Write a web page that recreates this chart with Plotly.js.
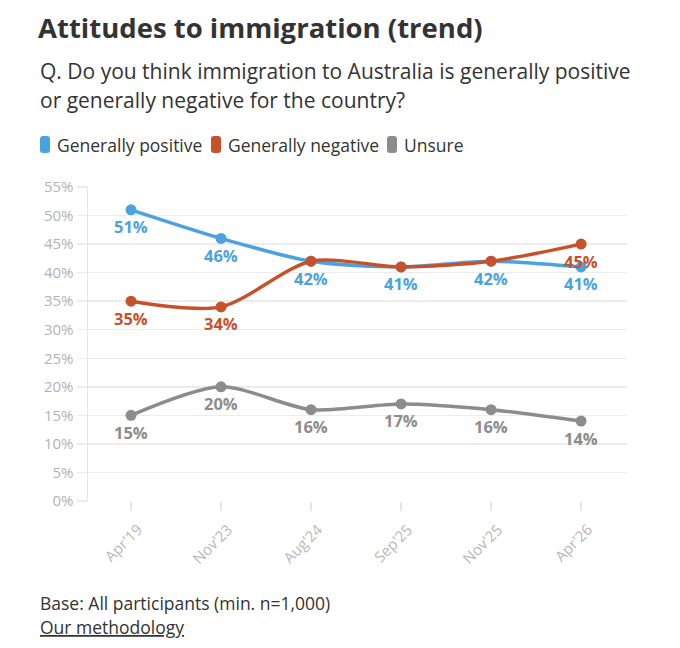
<!DOCTYPE html>
<html>
<head>
<meta charset="utf-8">
<script src="https://cdn.plot.ly/plotly-3.0.1.min.js"></script>
<style>
  html, body { margin: 0; padding: 0; background: #ffffff; }
  #chart { width: 680px; height: 648px; }
</style>
</head>
<body>
<div id="chart"></div>
<script>
// ---- Data ----
const categories = ["Apr'19", "Nov'23", "Aug'24", "Sep'25", "Nov'25", "Apr'26"];
const positiveValues = [51, 46, 42, 41, 42, 41];
const negativeValues = [35, 34, 42, 41, 42, 45];
const unsureValues = [15, 20, 16, 17, 16, 14];
const negativeLabelShown = [true, true, false, false, false, true];
const yTickValues = [0, 5, 10, 15, 20, 25, 30, 35, 40, 45, 50, 55];
const yTickLabels = yTickValues.map(v => v + '%');
const seriesNames = ['Generally positive', 'Generally negative', 'Unsure'];

// ---- Style ----
const COLORS = ['#4aa3df', '#c6522c', '#8c8c8c'];
const FONT = '"Open Sans", "Noto Sans", sans-serif';
const W = 680, H = 648;
const M = { l: 88, r: 53, t: 187, b: 147 };
const PW = W - M.l - M.r, PH = H - M.t - M.b;
const px = x => (x - M.l) / PW;
const py = y => (H - M.b - y) / PH;

function makeTrace(name, values, color) {
  return {
    type: 'scatter',
    mode: 'lines+markers',
    name: name,
    x: categories,
    y: values,
    line: { color: color, width: 3.5, shape: 'spline', smoothing: 0.8 },
    marker: { color: color, size: 11 },
    cliponaxis: false,
    hoverinfo: 'skip',
    showlegend: false
  };
}

const data = [
  makeTrace(seriesNames[2], unsureValues, COLORS[2]),
  makeTrace(seriesNames[0], positiveValues, COLORS[0]),
  makeTrace(seriesNames[1], negativeValues, COLORS[1])
];

const shapes = [];
const annotations = [];

// Data labels (placed in data coordinates, shifted below the point)
function addLabels(values, color, shown) {
  values.forEach((v, i) => {
    if (shown && !shown[i]) return;
    annotations.push({
      xref: 'x', yref: 'y', x: categories[i], y: v,
      yshift: -17, xanchor: 'center', yanchor: 'middle', showarrow: false,
      text: '<b>' + v + '%</b>',
      font: { family: FONT, size: 16.5, color: color }
    });
  });
}
addLabels(unsureValues, COLORS[2]);
addLabels(positiveValues, COLORS[0]);
addLabels(negativeValues, COLORS[1], negativeLabelShown);

// Custom legend (rounded swatches + text)
const legendX = [40, 211, 387];
seriesNames.forEach((n, i) => {
  const x0 = legendX[i], x1 = x0 + 10, y0 = 136, y1 = 153, r = 3;
  const X0 = px(x0), X1 = px(x1), Y0 = py(y0), Y1 = py(y1);
  const rx = r / PW, ry = r / PH;
  shapes.push({
    type: 'path', xref: 'paper', yref: 'paper',
    path: `M ${X0 + rx} ${Y0} L ${X1 - rx} ${Y0} Q ${X1} ${Y0} ${X1} ${Y0 - ry} L ${X1} ${Y1 + ry} Q ${X1} ${Y1} ${X1 - rx} ${Y1} L ${X0 + rx} ${Y1} Q ${X0} ${Y1} ${X0} ${Y1 + ry} L ${X0} ${Y0 - ry} Q ${X0} ${Y0} ${X0 + rx} ${Y0} Z`,
    fillcolor: COLORS[i], line: { width: 0 }
  });
  annotations.push({
    xref: 'paper', yref: 'paper', x: px(x0 + 15), y: py(145),
    xanchor: 'left', yanchor: 'middle', showarrow: false,
    text: n, font: { family: FONT, size: 17.5, color: '#333333' }
  });
});

annotations.push({
  xref: 'paper', yref: 'paper', x: px(38), y: py(71),
  xanchor: 'left', yanchor: 'middle', showarrow: false, align: 'left',
  text: 'Q. Do you think immigration to Australia is generally positive',
  font: { family: FONT, size: 21, color: '#333333' }
});
annotations.push({
  xref: 'paper', yref: 'paper', x: px(38), y: py(100),
  xanchor: 'left', yanchor: 'middle', showarrow: false, align: 'left',
  text: 'or generally negative for the country?',
  font: { family: FONT, size: 21, color: '#333333' }
});
annotations.push({
  xref: 'paper', yref: 'paper', x: px(38), y: py(603),
  xanchor: 'left', yanchor: 'middle', showarrow: false,
  text: 'Base: All participants (min. n=1,000)',
  font: { family: FONT, size: 17.5, color: '#333333' }
});
annotations.push({
  xref: 'paper', yref: 'paper', x: px(38), y: py(627),
  xanchor: 'left', yanchor: 'middle', showarrow: false,
  text: '<u>Our methodology</u>',
  font: { family: FONT, size: 17.5, color: '#333333' }
});

const layout = {
  width: W, height: H,
  margin: M,
  paper_bgcolor: '#ffffff',
  plot_bgcolor: '#ffffff',
  font: { family: FONT, color: '#333333' },
  title: {
    text: '<b>Attitudes to immigration (trend)</b>',
    xref: 'container', yref: 'container',
    x: 38 / W, xanchor: 'left',
    y: 1 - 28 / H, yanchor: 'middle',
    font: { family: FONT, size: 27.5, color: '#333333' }
  },
  xaxis: {
    type: 'category',
    range: [-0.478, 5.51],
    showgrid: false,
    zeroline: false,
    showline: false,
    ticks: 'outside', ticklen: 9, tickwidth: 1.5, tickcolor: '#e6e6e6',
    tickangle: -45,
    ticklabelshift: 7,
    ticklabelstandoff: 4,
    tickfont: { family: FONT, size: 15, color: '#b8b8b8' },
    fixedrange: true
  },
  yaxis: {
    range: [0, 55],
    tickvals: yTickValues,
    ticktext: yTickLabels,
    showgrid: true, gridcolor: '#ececec', gridwidth: 1.5,
    zeroline: false,
    showline: true, linecolor: '#e6e6e6', linewidth: 1.5,
    ticks: 'outside', ticklen: 10, tickwidth: 1.5, tickcolor: '#ececec',
    tickfont: { family: FONT, size: 15, color: '#b3b3b3' },
    fixedrange: true
  },
  shapes: shapes,
  annotations: annotations,
  showlegend: false
};

Plotly.newPlot('chart', data, layout, { displayModeBar: false, staticPlot: true });
</script>
</body>
</html>
